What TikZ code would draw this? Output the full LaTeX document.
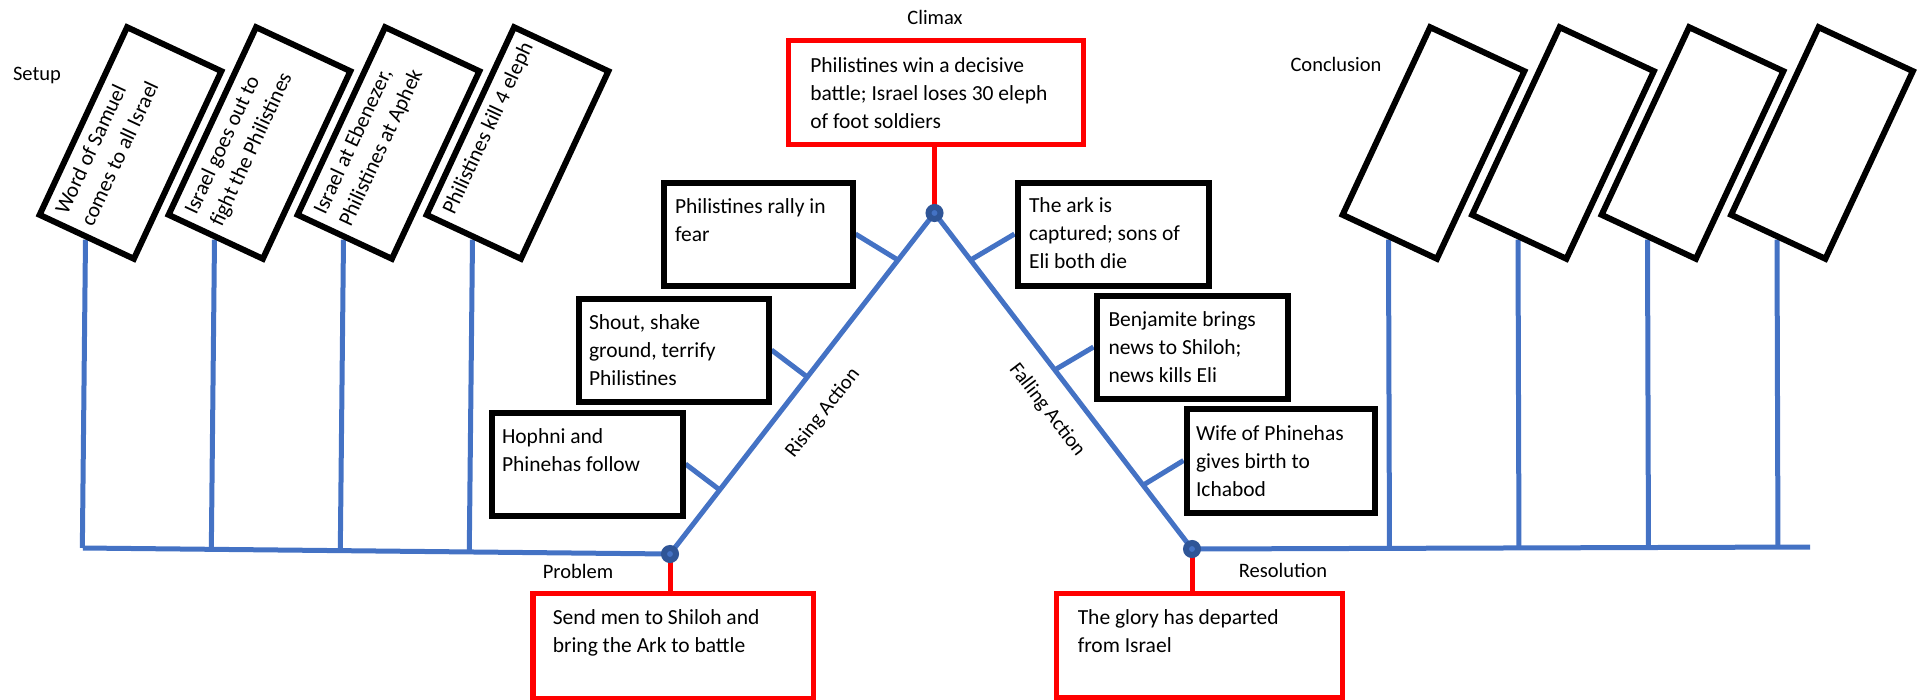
\documentclass[tikz,border=0pt]{standalone}
\usepackage{fontspec}
\setmainfont{Carlito}
\usetikzlibrary{calc}
\pgfdeclarelayer{background}
\pgfsetlayers{background,main}
\definecolor{lnblue}{HTML}{4472C4}
\definecolor{dotblue}{HTML}{2F5597}
\definecolor{rd}{HTML}{FF0000}
\newcommand{\tb}[3]{\parbox[t][#2pt][t]{#1pt}{\strut#3}}
\begin{document}
\begin{tikzpicture}[x=1pt,y=-1pt,
  txt/.style={font=\fontsize{21.5}{28}\selectfont},
  evt/.style={txt, draw=black, line width=6pt, anchor=north west},
  redbox/.style={txt, draw=rd, line width=5.5pt, anchor=north west},
  tilt/.style={txt, draw=black, line width=6pt, rotate=65, inner sep=0pt, minimum width=207pt, minimum height=104pt},
  bline/.style={draw=lnblue, line width=5pt},
  link/.style={draw=rd, line width=5pt},
  knot/.style={circle, fill=lnblue, draw=dotblue, line width=6pt, minimum size=12pt, inner sep=0pt},
  lbl/.style={font=\fontsize{20.5}{24}\selectfont, inner sep=0pt}]
\useasboundingbox (0,0) rectangle (1917,699);

% labels
\node[lbl] (setup) at (37,75) {Setup};
\node[lbl] (climaxl) at (935,17) {Climax};
\node[lbl] (concl) at (1336,64) {Conclusion};
\node[lbl] (probl) at (578,571) {Problem};
\node[lbl] (resl) at (1283,570) {Resolution};
\node[lbl, rotate=52] (rising) at (823,413) {Rising Action};
\node[lbl, rotate=-52.5] (falling) at (1047,410) {Falling Action};

% setup boxes
\node[tilt, inner xsep=11pt, inner ysep=6pt] (s1) at (130.5,143) {\tb{185}{92}{\mbox{Word of Samuel}\\\mbox{comes to all Israel}}};
\node[tilt, inner xsep=11pt, inner ysep=6pt] (s2) at (259.5,143) {\tb{185}{92}{\mbox{Israel goes out to}\\\mbox{fight the Philistines}}};
\node[tilt, inner xsep=11pt, inner ysep=6pt] (s3) at (388.5,143) {\tb{185}{92}{\mbox{Israel at Ebenezer,}\\\mbox{Philistines at Aphek}}};
\node[tilt, inner xsep=11pt, inner ysep=6pt] (s4) at (517.5,143) {\tb{185}{92}{\mbox{Philistines kill 4 eleph}}};

% conclusion boxes
\node[tilt] (c1) at (1433.5,143) {};
\node[tilt] (c2) at (1563,143) {};
\node[tilt] (c3) at (1692.5,143) {};
\node[tilt] (c4) at (1822,143) {};

% key boxes
\node[redbox, inner xsep=22pt, inner ysep=13pt] (climax) at (785.5,37.5) {\tb{251}{78}{\mbox{Philistines win a decisive}\\\mbox{battle; Israel loses 30 eleph}\\\mbox{of foot soldiers}}};
\node[redbox, inner xsep=20pt, inner ysep=12pt] (prob) at (530,590.5) {\tb{240.5}{81}{\mbox{Send men to Shiloh and}\\\mbox{bring the Ark to battle}}};
\node[redbox, inner xsep=21.5pt, inner ysep=12pt] (res) at (1053.5,590.5) {\tb{243}{80}{\mbox{The glory has departed}\\\mbox{from Israel}}};

% rising action boxes
\node[evt, inner xsep=11.5pt, inner ysep=11pt] (rally) at (660.5,179.5) {\tb{166}{81}{\mbox{Philistines rally in}\\\mbox{fear}}};
\node[evt, inner xsep=10pt, inner ysep=11pt] (shout) at (576,295.5) {\tb{169.5}{81}{\mbox{Shout, shake}\\\mbox{ground, terrify}\\\mbox{Philistines}}};
\node[evt, inner xsep=10.5pt, inner ysep=11pt] (hophni) at (488.5,409.5) {\tb{170}{81}{\mbox{Hophni and}\\\mbox{Phinehas follow}}};

% falling action boxes
\node[evt, inner xsep=11.5pt, inner ysep=10pt] (ark) at (1014.5,179.5) {\tb{168}{83}{\mbox{The ark is}\\\mbox{captured; sons of}\\\mbox{Eli both die}}};
\node[evt, inner xsep=12pt, inner ysep=11pt] (benj) at (1093.5,292.5) {\tb{167}{81}{\mbox{Benjamite brings}\\\mbox{news to Shiloh;}\\\mbox{news kills Eli}}};
\node[evt, inner xsep=9.5pt, inner ysep=12pt] (wife) at (1183.5,405.5) {\tb{169}{80}{\mbox{Wife of Phinehas}\\\mbox{gives birth to}\\\mbox{Ichabod}}};

% plot points
\coordinate (hl) at (83,548);
\coordinate (hr) at (1810,547);
\node[knot] (pd) at (670,554) {};
\node[knot] (cd) at (934.5,213) {};
\node[knot] (rdot) at (1192,549) {};

\begin{pgfonlayer}{background}
  \draw[bline] (hl) -- (pd.center) -- (cd.center) -- (rdot.center) -- (hr);
  \foreach \b in {s1,s2,s3,s4} \draw[bline] (\b.west) -- ($(hl)!(\b.west)!(pd)$);
  \foreach \b in {c1,c2,c3,c4} \draw[bline] (\b.west) -- ($(rdot)!(\b.west)!(hr)$);
  \draw[bline] (rally.east) -- ($(pd)!0.862!(cd)$);
  \draw[bline] (shout.east) -- ($(pd)!0.519!(cd)$);
  \draw[bline] (hophni.east) -- ($(pd)!0.188!(cd)$);
  \draw[bline] (ark.west) -- ($(cd)!0.14!(rdot)$);
  \draw[bline] (benj.west) -- ($(cd)!0.467!(rdot)$);
  \draw[bline] (wife.west) -- ($(cd)!0.81!(rdot)$);
  \draw[link] (cd.center) -- (cd |- climax.south);
  \draw[link] (pd.center) -- (pd |- prob.north);
  \draw[link] (rdot.center) -- (rdot |- res.north);
\end{pgfonlayer}
\end{tikzpicture}
\end{document}
